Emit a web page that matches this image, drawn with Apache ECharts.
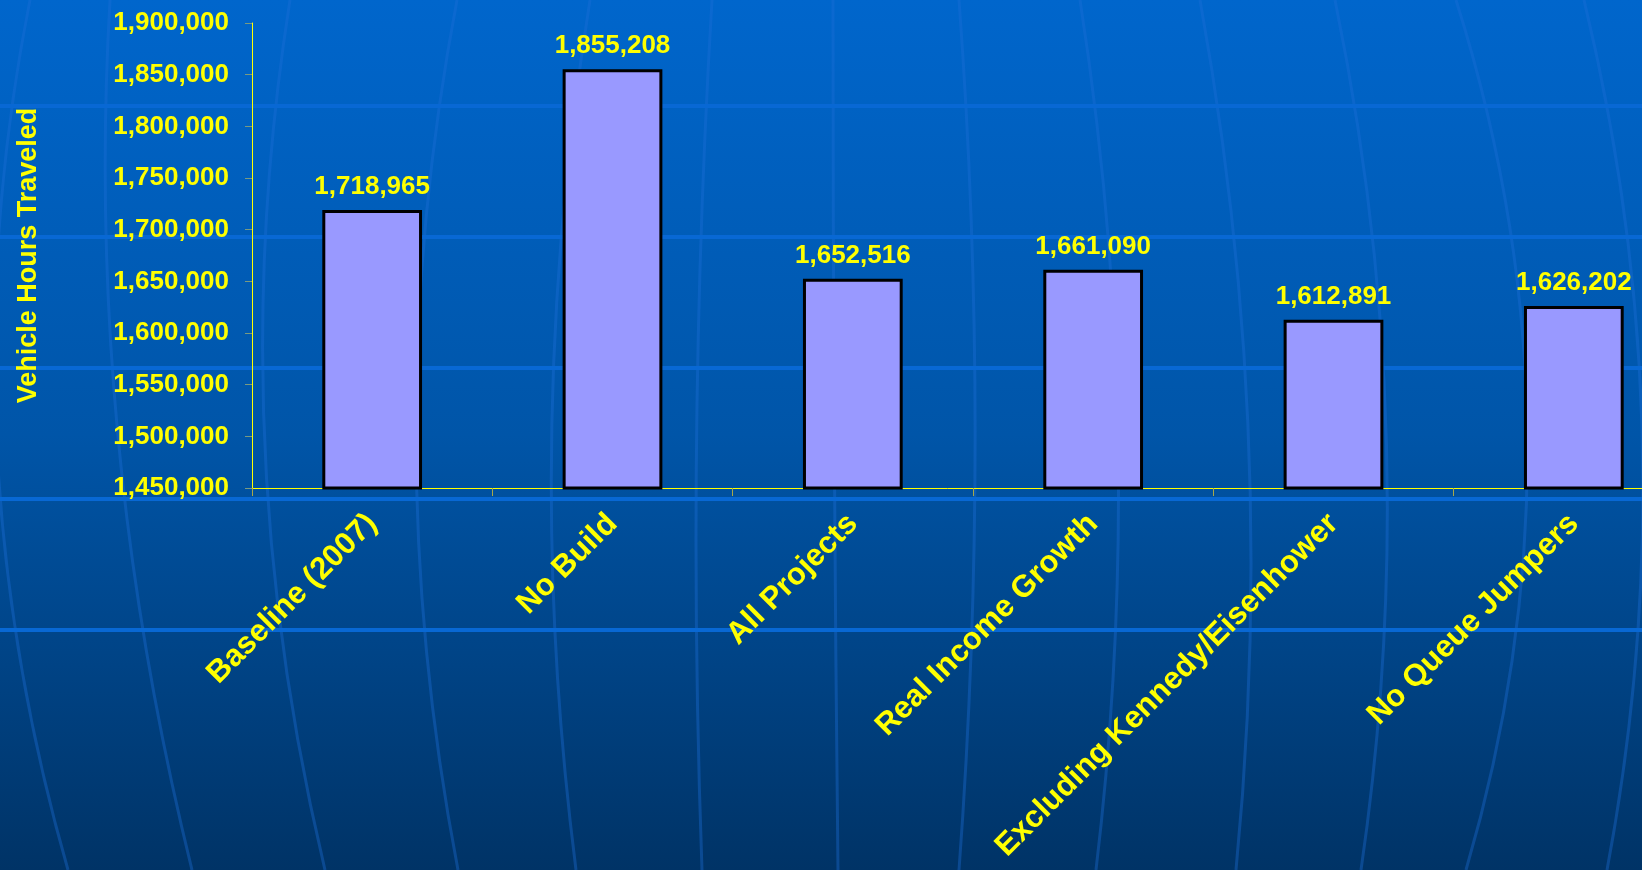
<!DOCTYPE html>
<html>
<head>
<meta charset="utf-8">
<script src="https://cdn.jsdelivr.net/npm/echarts@6/dist/echarts.min.js"></script>
<style>
html,body{margin:0;padding:0;overflow:hidden;}
#c{width:1642px;height:870px;background:linear-gradient(180deg,#0066CC 0%,#0055A8 50%,#003366 100%);}
</style>
</head>
<body>
<div id="c"></div>
<script>
const categories = ['Baseline (2007)', 'No Build', 'All Projects', 'Real Income Growth', 'Excluding Kennedy/Eisenhower', 'No Queue Jumpers'];
const values = [1718965, 1855208, 1652516, 1661090, 1612891, 1626202];
const yMin = 1450000;
const yMax = 1900000;
const yStep = 50000;
const yName = 'Vehicle Hours Traveled';

const FONT = "'Liberation Sans', Arial, sans-serif";
const YEL = '#FFFF00';
const fmt = v => Number(v).toLocaleString('en-US');

// decorative background (not data): horizontal bands and curved meridian lines
const hLines = [106, 237, 368, 499, 630];
const vLines = [
  [30, 5, 68], [110, 131, 192], [290, 272, 325], [457, 419, 458], [590, 552, 576],
  [712, 696, 702], [833, 835, 838], [959, 974, 959], [1080, 1118, 1096],
  [1200, 1251, 1236], [1335, 1387, 1361], [1456, 1524, 1466], [1584, 1642, 1607]
];
const graphic = [];
const tm = 550 / 870;
vLines.forEach(([xt, xm, xb]) => {
  const cx = (xm - (1 - tm) * (1 - tm) * xt - tm * tm * xb) / (2 * tm * (1 - tm));
  graphic.push({type: 'bezierCurve', z: -2, silent: true,
    shape: {x1: xt, y1: 0, x2: xb, y2: 870, cpx1: cx, cpy1: 435},
    style: {stroke: 'rgba(30,110,215,0.38)', lineWidth: 3, fill: null}});
});
hLines.forEach(y => {
  graphic.push({type: 'line', z: -1, silent: true,
    shape: {x1: 0, y1: y, x2: 1642, y2: y},
    style: {stroke: '#0868D4', lineWidth: 4}});
});

const chart = echarts.init(document.getElementById('c'), null, {renderer: 'canvas'});
chart.setOption({
  backgroundColor: 'transparent',
  animation: false,
  graphic: graphic,
  grid: {left: 252, top: 23, right: -52, bottom: 382, containLabel: false, outerBoundsMode: 'none'},
  xAxis: {
    type: 'category',
    data: categories,
    axisLine: {show: true, lineStyle: {color: YEL, width: 1}},
    axisTick: {show: true, length: 8, alignWithLabel: false, lineStyle: {color: '#A8A848'}},
    axisLabel: {rotate: 45, margin: 31, interval: 0, color: YEL, fontSize: 31, fontWeight: 'bold', fontFamily: FONT}
  },
  yAxis: {
    type: 'value',
    min: yMin, max: yMax, interval: yStep,
    name: yName,
    nameLocation: 'middle',
    nameRotate: 90,
    nameGap: 210,
    nameTextStyle: {color: YEL, fontSize: 27, fontWeight: 'bold', fontFamily: FONT},
    axisLine: {show: true, lineStyle: {color: YEL, width: 1}},
    axisTick: {show: true, length: 7, lineStyle: {color: '#7A9A80'}},
    splitLine: {show: false},
    axisLabel: {margin: 23, color: YEL, fontSize: 26, fontWeight: 'bold', fontFamily: FONT, formatter: v => fmt(v)}
  },
  series: [{
    type: 'bar',
    data: values,
    barWidth: '41.5%',
    itemStyle: {color: '#9999FF', borderColor: '#000000', borderWidth: 3},
    label: {show: true, position: 'top', distance: 10, color: YEL, fontSize: 26, fontWeight: 'bold', fontFamily: FONT, formatter: p => fmt(p.value)}
  }]
});
</script>
</body>
</html>
